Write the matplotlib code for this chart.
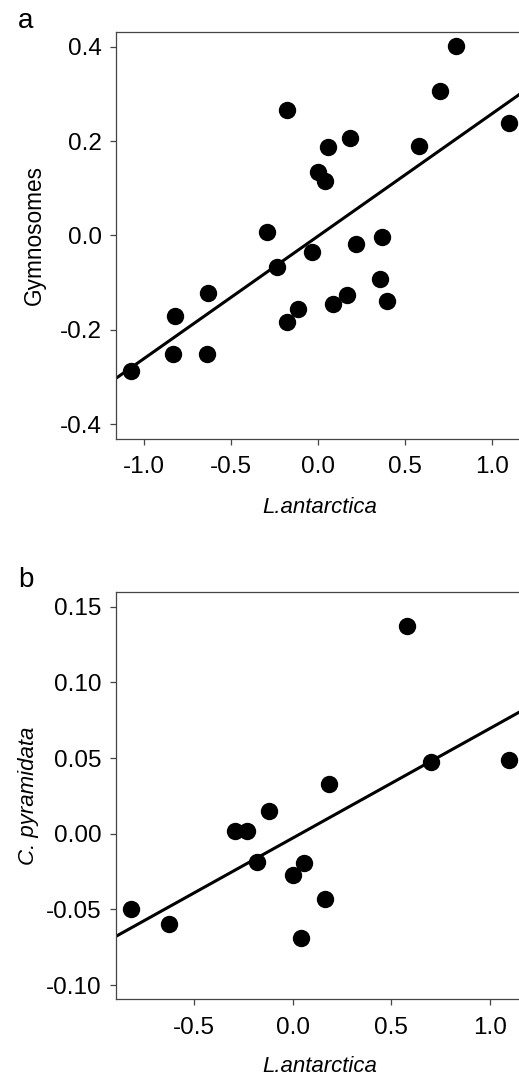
import matplotlib
matplotlib.use("Agg")
import matplotlib.pyplot as plt
import numpy as np

plt.rcParams['font.family'] = ['Liberation Sans', 'DejaVu Sans']

# ---- Panel a data: L.antarctica vs Gymnosomes ----
a_x = [-1.078, -0.824, -0.833, -0.632, -0.641, -0.293, -0.235, -0.178, -0.182,
       -0.118, -0.038, 0.000, 0.038, 0.057, 0.086, 0.163, 0.182, 0.215, 0.355,
       0.364, 0.393, 0.580, 0.700, 0.791, 1.094]
a_y = [-0.288, -0.170, -0.252, -0.122, -0.252, 0.008, -0.066, 0.267, -0.184,
       -0.156, -0.035, 0.134, 0.115, 0.187, -0.145, -0.127, 0.206, -0.018, -0.093,
       -0.004, -0.140, 0.189, 0.306, 0.401, 0.238]
a_fit = (0.2596, -0.001)   # slope, intercept
a_xticks = [-1.0, -0.5, 0.0, 0.5, 1.0]
a_yticks = [-0.4, -0.2, 0.0, 0.2, 0.4]

# ---- Panel b data: L.antarctica vs C. pyramidata ----
b_x = [-0.821, -0.627, -0.292, -0.233, -0.182, -0.119, 0.000, 0.041, 0.059,
       0.164, 0.184, 0.581, 0.699, 1.095]
b_y = [-0.0495, -0.0599, 0.0017, 0.0017, -0.0188, 0.0149, -0.0275, -0.0692, -0.0192,
       -0.0434, 0.0326, 0.1370, 0.0473, 0.0489]
b_fit = (0.0725, -0.0029)
b_xticks = [-0.5, 0.0, 0.5, 1.0]
b_yticks = [-0.10, -0.05, 0.00, 0.05, 0.10, 0.15]

W, H = 519, 1079
fig = plt.figure(figsize=(W / 100, H / 100), dpi=100)

spine_col = '#444444'


def make_axes(left_px, top_px, right_px, bottom_px):
    return fig.add_axes([left_px / W, 1 - bottom_px / H,
                         (right_px - left_px) / W, (bottom_px - top_px) / H])


def style(ax, xticks, yticks, yfmt):
    for s in ['left', 'bottom', 'top']:
        ax.spines[s].set_color(spine_col)
        ax.spines[s].set_linewidth(0.9)
    ax.spines['right'].set_visible(False)
    ax.set_xticks(xticks)
    ax.set_yticks(yticks)
    ax.set_xticklabels([f"{v:.1f}" for v in xticks])
    ax.set_yticklabels([yfmt.format(v) for v in yticks])
    ax.tick_params(axis='both', direction='out', length=4.2, width=0.9,
                   color=spine_col, labelsize=17.5)
    ax.tick_params(axis='y', pad=6)
    ax.tick_params(axis='x', pad=8.5)


# Panel a
ax1 = make_axes(116, 31.7, 524, 438.7)
ax1.plot(a_x, a_y, 'o', color='black', markersize=11.5, zorder=3)
ax1.axline((0, a_fit[1]), slope=a_fit[0], color='black', lw=2.2, zorder=2)
ax1.set_xlim(-1.163, 1.182)
ax1.set_ylim(-0.431, 0.432)
style(ax1, a_xticks, a_yticks, "{:.1f}")
ax1.set_ylabel('Gymnosomes', fontsize=16.3)
ax1.yaxis.set_label_coords(-0.200, 0.5)
ax1.yaxis.label.set_verticalalignment('center')
ax1.set_xlabel('L.antarctica', fontsize=16, style='italic')
ax1.xaxis.set_label_coords(0.5, -0.170)
ax1.xaxis.label.set_verticalalignment('center')

# Panel b
ax2 = make_axes(116, 592, 524, 999.3)
ax2.plot(b_x, b_y, 'o', color='black', markersize=11.5, zorder=3)
ax2.axline((0, b_fit[1]), slope=b_fit[0], color='black', lw=2.2, zorder=2)
ax2.set_xlim(-0.895, 1.172)
ax2.set_ylim(-0.1094, 0.1597)
style(ax2, b_xticks, b_yticks, "{:.2f}")
ax2.set_ylabel('C. pyramidata', fontsize=16, style='italic')
ax2.yaxis.set_label_coords(-0.214, 0.5)
ax2.yaxis.label.set_verticalalignment('center')
ax2.set_xlabel('L.antarctica', fontsize=16, style='italic')
ax2.xaxis.set_label_coords(0.5, -0.164)
ax2.xaxis.label.set_verticalalignment('center')

# Panel letters
fig.text(18 / W, 1 - 28 / H, 'a', fontsize=20, ha='left', va='baseline')
fig.text(18 / W, 1 - 587 / H, 'b', fontsize=20, ha='left', va='baseline')

fig.savefig('out.png', dpi=100)
